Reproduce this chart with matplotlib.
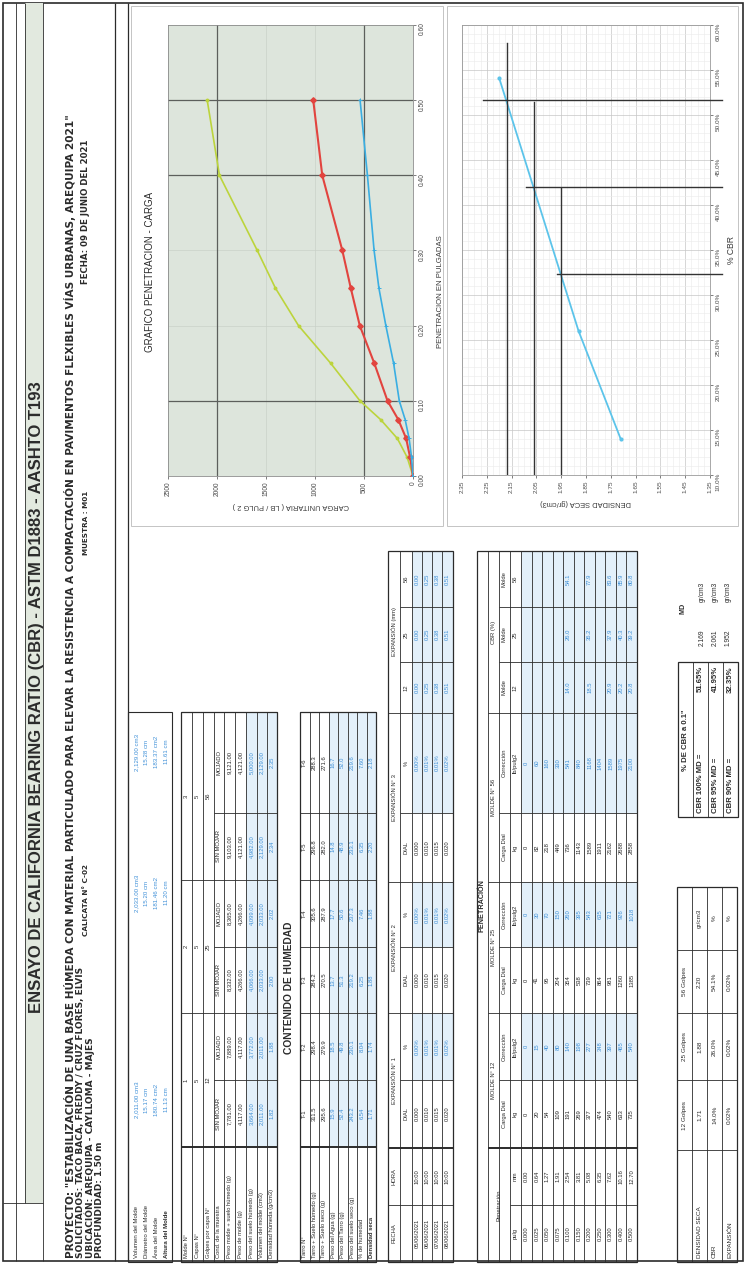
import matplotlib
matplotlib.use("Agg")
import matplotlib.pyplot as plt
from matplotlib.patches import Rectangle
from matplotlib.ticker import MultipleLocator, FuncFormatter

plt.rcParams['font.family'] = ['Liberation Sans', 'DejaVu Sans']

# ------------------------------------------------------------------ data
# penetration test (load in lb/pulg2 for each compaction energy)
pen_in = [0.000, 0.025, 0.050, 0.075, 0.100, 0.150, 0.200, 0.250, 0.300, 0.400, 0.500]
pen_mm = ["0.00", "0.64", "1.27", "1.91", "2.54", "3.81", "5.08", "6.35", "7.62", "10.16", "12.70"]
load_12 = [0, 15, 40, 80, 140, 198, 277, 348, 397, 465, 540]
load_25 = [0, 30, 70, 150, 260, 395, 543, 635, 721, 926, 1018]
load_56 = [0, 60, 160, 330, 541, 840, 1168, 1404, 1589, 1975, 2100]
dial_12 = [0, 20, 54, 109, 191, 269, 377, 474, 540, 633, 735]
dial_25 = [0, 41, 95, 204, 354, 538, 739, 864, 981, 1260, 1385]
dial_56 = [0, 82, 218, 449, 736, 1143, 1589, 1911, 2162, 2688, 2858]
std_load = {0.100: 1000, 0.200: 1500, 0.300: 1900, 0.400: 2300, 0.500: 2600}

# density / CBR summary
golpes = ["12", "25", "56"]
dens_seca = [1.71, 1.88, 2.20]
cbr_01 = [14.0, 26.0, 54.1]
expansion = ["0.02%", "0.02%", "0.02%"]
md_labels = ["CBR 100% MD =", "CBR 95% MD =", "CBR 90% MD ="]
md_dens = [2.169, 2.061, 1.952]
md_cbr = [51.65, 41.95, 32.35]

# mould data
mold_labels = ["Volumen del Molde", "Diámetro del Molde", "Área del Molde", "Altura del Molde"]
mold_vals = [["2,011.00 cm3", "15.17 cm", "180.74 cm2", "11.13 cm"],
             ["2,033.00 cm3", "15.20 cm", "181.46 cm2", "11.20 cm"],
             ["2,129.00 cm3", "15.28 cm", "183.37 cm2", "11.61 cm"]]

comp_labels = ["Molde N°", "Capas N°", "Golpes por capa N°", "Cond. de la muestra",
               "Peso molde + suelo húmedo (g)", "Peso de molde (g)", "Peso del suelo húmedo (g)",
               "Volumen del molde (cm3)", "Densidad húmeda (g/cm3)"]
cond = ["SIN MOJAR", "MOJADO"] * 3
p_molde_suelo = ["7,781.00", "7,889.00", "8,332.00", "8,365.00", "9,103.00", "9,121.00"]
p_molde = ["4,117.00", "4,117.00", "4,266.00", "4,266.00", "4,121.00", "4,121.00"]
p_suelo = ["3,664.00", "3,772.00", "4,066.00", "4,099.00", "4,982.00", "5,000.00"]
vol_molde = ["2,011.00", "2,011.00", "2,033.00", "2,033.00", "2,129.00", "2,129.00"]
dens_hum = ["1.82", "1.88", "2.00", "2.02", "2.34", "2.35"]

hum_labels = ["Tarro N°", "Tarro + Suelo húmedo (g)", "Tarro + Suelo seco (g)", "Peso del Agua (g)",
              "Peso del Tarro (g)", "Peso del suelo seco (g)", "% de humedad", "Densidad seca"]
tarro = ["T-1", "T-2", "T-3", "T-4", "T-5", "T-6"]
t_sh = ["311.5", "298.4", "284.2", "305.6", "296.8", "288.3"]
t_ss = ["295.6", "279.9", "270.5", "287.9", "282.0", "271.6"]
agua = ["15.9", "18.5", "13.7", "17.7", "14.8", "16.7"]
p_tarro = ["52.4", "49.8", "51.3", "50.6", "48.9", "52.0"]
s_seco = ["243.2", "230.1", "219.2", "237.3", "233.1", "219.6"]
humedad = ["6.54", "8.04", "6.25", "7.46", "6.35", "7.60"]
d_seca = ["1.71", "1.74", "1.88", "1.88", "2.20", "2.18"]

fechas = ["05/06/2021", "06/06/2021", "07/06/2021", "08/06/2021"]
horas = ["10:00", "10:00", "10:00", "10:00"]
exp_dial = ["0.000", "0.010", "0.015", "0.020"]
exp_mm = ["0.00", "0.25", "0.38", "0.51"]
exp_pct = ["0.00%", "0.01%", "0.01%", "0.02%"]

# ------------------------------------------------------------------ page
W, H = 746, 1264
fig = plt.figure(figsize=(W / 100, H / 100), dpi=100)
fig.patch.set_facecolor('white')
page = fig.add_axes([0, 0, 1, 1])
page.set_xlim(0, W)
page.set_ylim(H, 0)
page.axis('off')

INK = '#2b2b2b'
BLUE = '#3f90d8'
CELL = '#e3f0fa'
HEAD_FONT = ['DejaVu Sans']


def vline(x, y0, y1, lw=0.6, c=INK):
    page.plot([x, x], [y0, y1], color=c, lw=lw, solid_capstyle='butt')


def hline(y, x0, x1, lw=0.6, c=INK):
    page.plot([x0, x1], [y, y], color=c, lw=lw, solid_capstyle='butt')


def txt(x, y, s, size=4.2, ha='center', color=INK, weight='normal', rot=90, family=None):
    kw = {} if family is None else {'family': family}
    page.text(x, y, s, rotation=rot, rotation_mode='anchor', ha=ha, va='center',
              fontsize=size, color=color, fontweight=weight, **kw)


def box(x0, y0, x1, y1, lw=0.8, fc='none', ec=INK):
    page.add_patch(Rectangle((x0, y0), x1 - x0, y1 - y0, fc=fc, ec=ec, lw=lw))


def cell(x0, x1, y0, y1):
    # pale blue background of a computed cell
    page.add_patch(Rectangle((x0, min(y0, y1)), x1 - x0, abs(y1 - y0), fc=CELL, ec='none', zorder=0.5))


def px_rect(x0, y0, x1, y1):
    return [x0 / W, 1 - y1 / H, (x1 - x0) / W, (y1 - y0) / H]


def mids(edges):
    return [(a + b) / 2 for a, b in zip(edges[:-1], edges[1:])]


# ---- sheet frame and header
box(3, 3, 743, 1261, lw=1.2)
page.add_patch(Rectangle((25, 3), 18, 1200, fc='#e2e9df', ec='none'))
vline(16, 3, 1261)
vline(25, 3, 1203)
vline(43, 3, 1261)
hline(1203, 3, 43)
vline(115, 3, 1261, lw=0.9)
vline(128, 3, 1261, lw=0.9)

txt(37, 697, "ENSAYO DE CALIFORNIA BEARING RATIO (CBR) - ASTM D1883 - AASHTO T193",
    size=12, weight='bold')
txt(70, 1258, 'PROYECTO: "ESTABILIZACIÓN DE UNA BASE HÚMEDA CON MATERIAL PARTICULADO PARA ELEVAR '
    'LA RESISTENCIA A COMPACTACIÓN EN PAVIMENTOS FLEXIBLES VÍAS URBANAS, AREQUIPA 2021"',
    size=7.6, ha='left', weight='bold', family=HEAD_FONT)
txt(80, 1258, "SOLICITADOS: TACO BACA, FREDDY / CRUZ FLORES, ELVIS", size=6.5, ha='left',
    weight='bold', family=HEAD_FONT)
txt(90, 1258, "UBICACIÓN: AREQUIPA - CAYLLOMA - MAJES", size=6.5, ha='left', weight='bold',
    family=HEAD_FONT)
txt(100, 1258, "PROFUNDIDAD: 1.50 m", size=6.5, ha='left', weight='bold', family=HEAD_FONT)
txt(86, 900, "CALICATA N° C-02", size=5.2, weight='bold', family=HEAD_FONT)
txt(86, 523, "MUESTRA : M01", size=5.2, weight='bold', family=HEAD_FONT)
txt(86, 212, "FECHA: 09 DE JUNIO DEL 2021", size=6.2, weight='bold', family=HEAD_FONT)

# ---- mould dimensions
box(128, 712, 172, 1262)
for i, lab in enumerate(mold_labels):
    xc = 136.5 + 10 * i
    txt(xc, 1258, lab, size=4.4, ha='left', weight='bold' if i == 3 else 'normal')
    for yc, vals in zip([1100, 893, 752], mold_vals):
        txt(xc, yc, vals[i], size=4.4, color=BLUE)

# ---- compaction table
xB = [181, 192, 203, 214, 224, 235, 246, 257, 267, 277]
col_edges = [1147, 1080, 1013, 947, 880, 813, 712]
col_mid = mids(col_edges)
grp_mid = [(1147 + 1013) / 2, (1013 + 880) / 2, (880 + 712) / 2]
for r in range(6, 9):
    cell(xB[r], xB[r + 1], 712, 1147)
box(181, 712, 277, 1262, lw=0.9)
for x in xB:
    vline(x, 712, 1262)
for y in [1013, 880]:
    hline(y, 181, 277)
hline(1147, 181, 277, lw=1.4)
for y in [1080, 947, 813]:
    hline(y, 214, 277)
for i, lab in enumerate(comp_labels):
    txt((xB[i] + xB[i + 1]) / 2, 1258, lab, ha='left')
for g, yc in enumerate(grp_mid):
    txt((xB[0] + xB[1]) / 2, yc, str(g + 1))
    txt((xB[1] + xB[2]) / 2, yc, "5")
    txt((xB[2] + xB[3]) / 2, yc, golpes[g])
rowsB = [cond, p_molde_suelo, p_molde, p_suelo, vol_molde, dens_hum]
for r, vals in enumerate(rowsB):
    xc = (xB[r + 3] + xB[r + 4]) / 2
    for yc, v in zip(col_mid, vals):
        txt(xc, yc, v, color=BLUE if r >= 3 else INK)

txt(289, 988, "CONTENIDO DE HUMEDAD", size=7.4, weight='bold')

# ---- moisture table
xC = [300 + 9.5 * i for i in range(9)]
for r in range(3, 8):
    cell(xC[r], xC[r + 1], 712, 1147)
box(300, 712, 376, 1262, lw=0.9)
for x in xC:
    vline(x, 712, 1262)
for y in col_edges[1:-1]:
    hline(y, 300, 376)
hline(1147, 300, 376, lw=1.4)
rowsC = [tarro, t_sh, t_ss, agua, p_tarro, s_seco, humedad, d_seca]
for r, (lab, vals) in enumerate(zip(hum_labels, rowsC)):
    xc = (xC[r] + xC[r + 1]) / 2
    txt(xc, 1258, lab, ha='left', weight='bold' if r == 7 else 'normal')
    for yc, v in zip(col_mid, vals):
        txt(xc, yc, v, color=BLUE if r >= 3 else INK)

# shared column layout of the swell and penetration tables
yT = [1262, 1205, 1148, 1080, 1013, 947, 882, 813, 713, 662, 607, 551]
tmid = mids(yT)
groups = [(1148, 1013), (1013, 882), (882, 713), (713, 551)]

# ---- swell table
xE = [388, 400, 412, 422, 432, 442, 453]
for j in [3, 5, 7, 8, 9, 10]:
    cell(412, 453, yT[j], yT[j + 1])
box(388, 551, 453, 1262, lw=0.9)
for x in xE[1:-1]:
    vline(x, 551, 1262)
for y in [1205] + [g[1] for g in groups[:-1]]:
    hline(y, 388, 453)
hline(1148, 388, 453, lw=1.4)
for y in [1080, 947, 813, 662, 607]:
    hline(y, 400, 453)
txt(394, tmid[0], "FECHA")
txt(394, tmid[1], "HORA")
for k in range(3):
    txt(394, sum(groups[k]) / 2, f"EXPANSIÓN N° {k + 1}")
txt(394, sum(groups[3]) / 2, "EXPANSIÓN (mm)")
sub_e = ["DIAL", "%", "DIAL", "%", "DIAL", "%"] + golpes
for yc, s in zip(tmid[2:], sub_e):
    txt(406, yc, s)
for r in range(4):
    xc = (xE[r + 2] + xE[r + 3]) / 2
    txt(xc, tmid[0], fechas[r])
    txt(xc, tmid[1], horas[r])
    for j in [2, 4, 6]:
        txt(xc, tmid[j], exp_dial[r])
    for j in [3, 5, 7]:
        txt(xc, tmid[j], exp_pct[r], color=BLUE)
    for j in [8, 9, 10]:
        txt(xc, tmid[j], exp_mm[r], color=BLUE)

# ---- penetration table
xP = [477, 488, 499, 510, 521] + [521 + (637 - 521) * (i + 1) / 11 for i in range(11)]
for j in [3, 5, 7, 8, 9, 10]:
    cell(521, 637, yT[j], yT[j + 1])
box(477, 551, 637, 1262, lw=0.9)
for x in xP[1:-1]:
    vline(x, 551, 1262)
for y in [g[1] for g in groups[:-1]]:
    hline(y, 488, 637)
hline(1148, 488, 637, lw=1.4)
hline(1205, 510, 637)
for y in [1080, 947, 813, 662, 607]:
    hline(y, 499, 637)
txt(482.5, 906, "PENETRACIÓN", size=5.2, weight='bold')
txt(499, 1205, "Penetración")
for k in range(3):
    txt(493.5, sum(groups[k]) / 2, f"MOLDE N° {golpes[k]}")
txt(493.5, sum(groups[3]) / 2, "CBR (%)")
head1 = ["Carga Dial", "Corrección"] * 3 + ["Molde", "Molde", "Molde"]
head2 = ["kg", "lb/pulg2"] * 3 + golpes
for yc, s1, s2 in zip(tmid[2:], head1, head2):
    txt(504.5, yc, s1)
    txt(515.5, yc, s2)
txt(515.5, tmid[0], "pulg")
txt(515.5, tmid[1], "mm")
for r in range(11):
    xc = (xP[r + 4] + xP[r + 5]) / 2
    txt(xc, tmid[0], f"{pen_in[r]:.3f}")
    txt(xc, tmid[1], pen_mm[r])
    for j, (dial, load) in enumerate([(dial_12, load_12), (dial_25, load_25), (dial_56, load_56)]):
        txt(xc, tmid[2 + 2 * j], str(dial[r]))
        txt(xc, tmid[3 + 2 * j], str(load[r]), color=BLUE)
        if pen_in[r] in std_load:
            txt(xc, tmid[8 + j], f"{load[r] / std_load[pen_in[r]] * 100:.1f}", color=BLUE)

# ---- CBR summary box
xR = [678, 693, 708, 723, 738]
box(678, 662, 738, 817, lw=0.9)
for x in xR[1:-1]:
    vline(x, 662, 817)
txt(685.5, 740, '% DE CBR a 0.1"', size=5.6, weight='bold')
for i in range(3):
    xc = (xR[i + 1] + xR[i + 2]) / 2
    txt(xc, 813, md_labels[i], size=5.6, ha='left', weight='bold')
    txt(xc, 666, f"{md_cbr[i]:.2f}%", size=5.6, ha='right', weight='bold')

txt(683, 608, "MD", size=5.2, weight='bold')
for i in range(3):
    xc = 702 + 13 * i
    txt(xc, 638, f"{md_dens[i]:.3f}", size=4.8)
    txt(xc, 592, "gr/cm3", size=4.8)

# ---- density summary table
xS = [677, 692, 707, 722, 737]
yS = [1262, 1150, 1080, 1013, 950, 887]
box(677, 887, 737, 1262, lw=0.9)
for x in xS[1:-1]:
    vline(x, 887, 1262)
for y in yS[1:-1]:
    hline(y, 677, 737)
s_mid = mids(yS)
for g in range(3):
    txt(684.5, s_mid[g + 1], f"{golpes[g]} Golpes", size=4.6)
    txt(699.5, s_mid[g + 1], f"{dens_seca[g]:.2f}", size=4.6)
    txt(714.5, s_mid[g + 1], f"{cbr_01[g]:.1f}%", size=4.6)
    txt(729.5, s_mid[g + 1], expansion[g], size=4.6)
txt(699.5, 1258, "DENSIDAD SECA", size=4.6, ha='left')
txt(714.5, 1258, "CBR", size=4.6, ha='left')
txt(729.5, 1258, "EXPANSIÓN", size=4.6, ha='left')
txt(699.5, s_mid[4], "gr/cm3", size=4.6)
txt(714.5, s_mid[4], "%", size=4.6)
txt(729.5, s_mid[4], "%", size=4.6)

# ------------------------------------------------------------------ chart: penetration vs load
box(131, 6, 443, 526, lw=0.7, ec='#c4c4c4')
txt(150, 272, "GRAFICO PENETRACION - CARGA", size=7)
ax1 = fig.add_axes(px_rect(168, 25, 413, 476))
ax1.set_facecolor('#dde5dc')
ax1.set_xlim(2500, 0)
ax1.set_ylim(0, 0.6)
ax1.xaxis.set_major_locator(MultipleLocator(500))
ax1.yaxis.set_major_locator(MultipleLocator(0.1))
ax1.xaxis.set_major_formatter(FuncFormatter(lambda v, p: f"{v:.0f}"))
ax1.yaxis.set_major_formatter(FuncFormatter(lambda v, p: f"{v:.2f}"))
ax1.yaxis.tick_right()
ax1.yaxis.set_label_position('right')
ax1.tick_params(labelsize=4.8, labelrotation=90, length=2, width=0.5, colors='#4a4a4a', pad=2)
ax1.set_axisbelow(True)
ax1.grid(color='#c9d1c8', lw=0.5)
for c in [500, 2000]:
    ax1.axvline(c, color='#5c5f5c', lw=0.9, zorder=1)
for p in [0.1, 0.4, 0.5]:
    ax1.axhline(p, color='#5c5f5c', lw=0.9, zorder=1)
for s in ax1.spines.values():
    s.set_color('#8c8c8c')
    s.set_linewidth(0.6)
ax1.plot(load_56, pen_in, color='#bcd43c', lw=1.2, marker='o', ms=1.8, zorder=3)
ax1.plot(load_25, pen_in, color='#e2443f', lw=1.5, marker='D', ms=2.8, zorder=3)
ax1.plot(load_12, pen_in, color='#3aaee2', lw=1.2, marker='+', ms=3, mew=0.7, zorder=3)
ax1.set_xlabel("CARGA UNITARIA ( LB / PULG 2 )", rotation=180, fontsize=5.4, color='#3a3a3a', labelpad=4)
ax1.set_ylabel("PENETRACION EN PULGADAS", rotation=90, fontsize=5.6, color='#3a3a3a')
ax1.yaxis.set_label_coords(1.098, 0.41)

# ------------------------------------------------------------------ chart: dry density vs CBR
box(447, 6, 738, 526, lw=0.7, ec='#c4c4c4')
ax2 = fig.add_axes(px_rect(462, 25, 710, 475))
ax2.set_xlim(2.35, 1.35)
ax2.set_ylim(10, 60)
ax2.xaxis.set_major_locator(MultipleLocator(0.1, offset=0.05))
ax2.xaxis.set_minor_locator(MultipleLocator(0.025))
ax2.yaxis.set_major_locator(MultipleLocator(5))
ax2.yaxis.set_minor_locator(MultipleLocator(1))
ax2.xaxis.set_major_formatter(FuncFormatter(lambda v, p: f"{v:.2f}"))
ax2.yaxis.set_major_formatter(FuncFormatter(lambda v, p: f"{v:.1f}%"))
ax2.yaxis.tick_right()
ax2.yaxis.set_label_position('right')
ax2.tick_params(which='major', labelsize=4.6, labelrotation=90, length=2, width=0.5, colors='#4a4a4a', pad=2)
ax2.tick_params(which='minor', length=0)
ax2.set_axisbelow(True)
ax2.grid(which='major', color='#c6c6c6', lw=0.5)
ax2.grid(which='minor', color='#ebebeb', lw=0.4)
for s in ax2.spines.values():
    s.set_color('#9a9a9a')
    s.set_linewidth(0.6)
ax2.plot(dens_seca, cbr_01, color='#5cc4ea', lw=1.3, marker='o', ms=2, zorder=3)
for (d, c), over in zip(zip(md_dens, md_cbr), (0.095, 0.03, 0.015)):
    ax2.plot([d, d], [10, min(c + 9.5, 58)], color='#333333', lw=1.0, zorder=4)
    ax2.plot([d + over, 1.30], [c, c], color='#333333', lw=1.0, zorder=4, clip_on=False)
ax2.set_xlabel("DENSIDAD SECA (gr/cm3)", rotation=180, fontsize=5.4, color='#3a3a3a', labelpad=4)
ax2.set_ylabel("% CBR", rotation=90, fontsize=6.2, color='#3a3a3a', labelpad=5)

fig.savefig("out.png", dpi=100, facecolor='white')
